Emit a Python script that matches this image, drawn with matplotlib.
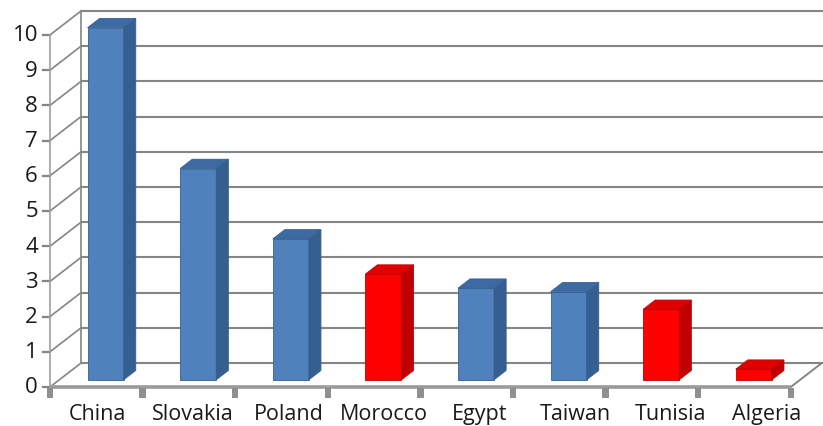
import matplotlib
matplotlib.use("Agg")
import matplotlib.pyplot as plt
from matplotlib.patches import Polygon, Rectangle

categories = ["China", "Slovakia", "Poland", "Morocco", "Egypt", "Taiwan", "Tunisia", "Algeria"]
values = [10, 6, 4, 3, 2.6, 2.5, 2, 0.3]
highlight = [False, False, False, True, False, False, True, True]
y_ticks = list(range(0, 11))

plt.rcParams['font.family'] = ['Open Sans', 'DejaVu Sans']

# oblique projection of depth (0 = front plane, 1 = back wall)
KX, KY = 0.335, 0.68
def proj(x, y, z):
    return (x + z * KX, y + z * KY)

fig = plt.figure(figsize=(8.23, 4.27), dpi=100)
ax = fig.add_axes([0, 0, 1, 1])
ax.set_xlim(-1.04, 7.848)
ax.set_ylim(-1.108, 11.02)
ax.axis("off")

grid_c = "#858585"
n = len(categories)
x_left, x_right = -0.5, n - 0.5

# back wall gridlines and left wall diagonals
for v in y_ticks:
    bx, by = proj(x_left, v, 1)
    ex, ey = proj(x_right, v, 1)
    ax.plot([bx, ex + 0.3], [by, ey], color=grid_c, lw=1.5, zorder=1, solid_capstyle="butt")
    fx, fy = proj(x_left, v, 0)
    ax.plot([fx, bx], [fy, by], color=grid_c, lw=1.2, zorder=1)
    # left tick marks
    ax.plot([x_left - 0.08, x_left], [v, v], color=grid_c, lw=1.6, zorder=1)
    ax.text(x_left - 0.13, v, str(v), ha="right", va="center", fontsize=16, color="#1a1a1a")

# wall edges
bx0, by0 = proj(x_left, 0, 1)
bx1, by1 = proj(x_left, 10, 1)
ax.plot([bx0, bx1], [by0, by1], color=grid_c, lw=1.2, zorder=1)
ax.plot([x_left, x_left], [0, 10], color="#a0a0a0", lw=1.2, zorder=1)

# floor front edge and right side
rx, ry = proj(x_right, 0, 1)
ax.plot([x_right, rx], [0, ry], color=grid_c, lw=1.4, zorder=1)
ax.plot([x_left, x_right], [0, 0], color="#9a9a9a", lw=2.6, zorder=5, solid_capstyle="butt")

# category tick marks below the floor
for k in range(n + 1):
    ax.add_patch(Rectangle((x_left + k - 0.035, -0.32), 0.07, 0.3, color="#8f8f8f", zorder=5, lw=0))

# bars
W = 0.39
Z0, Z1 = 0.3, 0.69
blue = ("#4f81bd", "#365f91", "#3e6aa3")
red = ("#ff0000", "#c00000", "#e00000")
for i, (v, hl) in enumerate(zip(values, highlight)):
    front_c, side_c, top_c = red if hl else blue
    x0 = i - W / 2
    fx, fy = proj(x0, 0, Z0)
    ax.bar(fx, v, width=W, bottom=fy, align="edge", color=front_c,
           edgecolor=side_c, lw=0.6, zorder=3)
    # side face
    p1 = proj(x0 + W, 0, Z0)
    p2 = proj(x0 + W, 0, Z1)
    p3 = proj(x0 + W, v, Z1)
    p4 = proj(x0 + W, v, Z0)
    ax.add_patch(Polygon([p1, p2, p3, p4], closed=True, facecolor=side_c,
                         edgecolor=side_c, lw=0.6, zorder=3))
    # top face
    t1 = proj(x0, v, Z0)
    t2 = proj(x0 + W, v, Z0)
    t3 = proj(x0 + W, v, Z1)
    t4 = proj(x0, v, Z1)
    ax.add_patch(Polygon([t1, t2, t3, t4], closed=True, facecolor=top_c,
                         edgecolor=side_c, lw=0.6, zorder=3))

# category labels
for i, c in enumerate(categories):
    ax.text(i * 1.032 + 0.01, -0.74, c, ha="center", va="center", fontsize=15.5, color="#1a1a1a")

fig.savefig("out.png", dpi=100)
